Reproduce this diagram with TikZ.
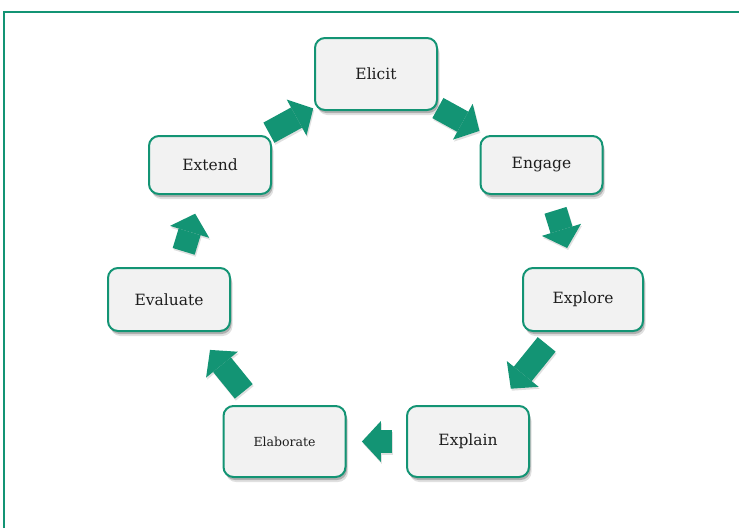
\documentclass[tikz,border=0pt]{standalone}
\usepackage{fontspec}
\setmainfont{DejaVu Serif}
\usetikzlibrary{arrows.meta,shadows,calc}
\definecolor{grn}{RGB}{19,148,116}
\definecolor{boxfill}{RGB}{242,242,242}
\definecolor{txt}{RGB}{30,30,30}
\tikzset{
  stage/.style={draw=grn, line width=2pt, fill=boxfill, rounded corners=10pt,
    minimum width=122pt, text=txt, inner sep=0pt,
    font=\fontsize{15.5}{18}\selectfont,
    drop shadow={shadow xshift=2.5pt, shadow yshift=-5pt, opacity=0.12, fill=black},
    drop shadow={shadow xshift=1.5pt, shadow yshift=-3pt, opacity=0.22, fill=black}},
  blk/.style={line width=23pt, draw=grn,
    -{Triangle[line width=0pt,length=19pt,width=41pt]}},
  blkshadow/.style={line width=23pt, draw=black, opacity=0.12,
    -{Triangle[line width=0pt,length=19pt,width=41pt]},
    transform canvas={xshift=1pt,yshift=-2pt}},
  frame/.style={draw=grn, line width=2pt}
}
\newcommand{\blkarrow}[4]{%
  \draw[blkshadow] ($(#1.center)!#3!(#2.center)$) -- ($(#1.center)!#4!(#2.center)$);
  \draw[blk] ($(#1.center)!#3!(#2.center)$) -- ($(#1.center)!#4!(#2.center)$);}
\begin{document}
\begin{tikzpicture}[x=1pt,y=-1pt]
\useasboundingbox (0,0) rectangle (739,528);
\coordinate (fbl) at (3.9,528);
\coordinate (ftl) at (3.9,11.9);
\coordinate (ftr) at (739,11.9);
\draw[frame] (fbl) -- (ftl) -- (ftr);

\node[stage, minimum height=72pt] (elicit) at (376,74) {Elicit};
\node[stage, minimum height=58pt] (engage) at (541.5,165) {Engage};
\node[stage, minimum height=58pt] (extend) at (210,165) {Extend};
\node[stage, minimum height=63pt] (evaluate) at (169,299.5) {Evaluate};
\node[stage, minimum height=63pt, minimum width=120pt] (explore) at (583,299.5) {Explore};
\node[stage, minimum height=71pt, font=\fontsize{12.5}{15}\selectfont] (elaborate) at (284.5,441.5) {Elaborate};
\node[stage, minimum height=71pt] (explain) at (468,441.5) {Explain};

\blkarrow{elicit}{engage}{0.374}{0.625}
\blkarrow{engage}{explore}{0.337}{0.617}
\blkarrow{explore}{explain}{0.316}{0.628}
\blkarrow{explain}{elaborate}{0.414}{0.578}
\blkarrow{elaborate}{evaluate}{0.353}{0.645}
\blkarrow{evaluate}{extend}{0.358}{0.638}
\blkarrow{extend}{elicit}{0.355}{0.622}
\end{tikzpicture}
\end{document}
